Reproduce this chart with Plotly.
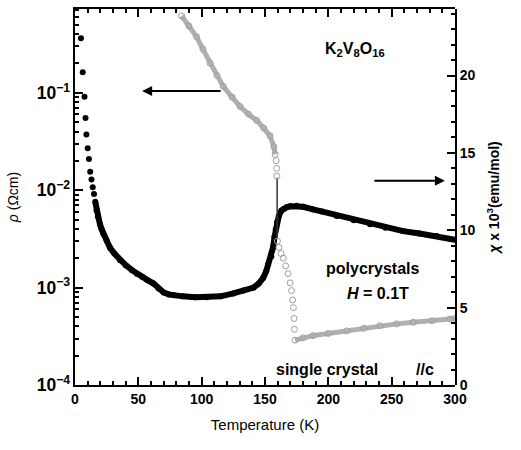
import plotly.graph_objects as go

# Resistivity (single crystal, //c) – left log axis
rho_T_sparse = [4.7, 6.1, 7.5, 8.3, 9.0, 10.0, 11.0, 12.0, 13.0, 14.0, 15.0]
rho_sparse = [0.363, 0.162, 0.0912, 0.0550, 0.0372, 0.0269, 0.0209, 0.0155, 0.0129, 0.0107, 0.00912]

rho_T = [16, 17, 18, 19.7, 21, 22.4, 25, 27.6, 31, 35.5, 40, 45, 49, 53, 57, 62, 66, 70, 74, 78,
         85, 95, 104, 115, 125, 133, 141, 145, 148.6, 151, 152.5, 155, 156.5, 157.5, 158.5, 159.5,
         161, 163, 165, 167, 170, 175, 180, 188, 195, 206.6, 220, 232.9, 245, 259, 272, 285.6, 296, 300]
rho = [0.00759, 0.00617, 0.00537, 0.00447, 0.00398, 0.00355, 0.00302, 0.00257, 0.00224, 0.00191,
       0.00170, 0.00151, 0.00138, 0.00129, 0.00120, 0.00110, 0.000977, 0.000891, 0.000851, 0.000832,
       0.000813, 0.000794, 0.000794, 0.000813, 0.000871, 0.000933, 0.00100, 0.00110, 0.00126, 0.00148,
       0.00174, 0.00209, 0.00263, 0.00331, 0.00398, 0.00468,
       0.00550, 0.00617, 0.00646, 0.00668, 0.00684, 0.00692, 0.00676, 0.00635, 0.00603, 0.00543,
       0.00490, 0.00447, 0.00412, 0.00380, 0.00359, 0.00339, 0.00316, 0.00309]

# Susceptibility (polycrystals, H = 0.1 T) – right axis
chi_T_upper = [84.2, 90, 96, 101, 106.6, 112, 117, 124, 130.3, 137, 143.4, 149, 154, 157, 158]
chi_upper = [23.85, 23.2, 22.5, 21.7, 20.8, 20.0, 19.3, 18.6, 18.0, 17.5, 17.1, 16.6, 16.1, 15.4, 14.9]

chi_T_step = [158.8, 159.2, 159.4, 159.8, 161, 162.7, 164.4, 166.3, 168.2, 169.8, 171, 171.8, 172.4, 172.9, 173.3]
chi_step = [14.5, 14.0, 13.5, 9.3, 8.9, 8.5, 8.2, 7.7, 7.2, 6.6, 6.1, 5.5, 5.0, 4.3, 3.6]

chi_T_jump = [159.6, 159.6]
chi_jump = [13.4, 9.5]

chi_T_low = [173.7, 180, 188, 200, 214.5, 228, 240.8, 254, 267, 282, 296, 300]
chi_low = [2.9, 3.05, 3.19, 3.33, 3.5, 3.67, 3.83, 3.95, 4.05, 4.15, 4.26, 4.3]

FONT = "Liberation Sans"
GRAY = "#a0a0a0"

fig = go.Figure()
fig.add_trace(go.Scatter(x=rho_T_sparse, y=rho_sparse, mode="markers",
                         marker=dict(color="black", size=6), yaxis="y"))
fig.add_trace(go.Scatter(x=rho_T, y=rho, mode="lines+markers",
                         line=dict(color="black", width=6),
                         marker=dict(color="black", size=6), yaxis="y"))
fig.add_trace(go.Scatter(x=chi_T_upper, y=chi_upper, mode="lines+markers",
                         line=dict(color="#b0b0b0", width=5),
                         marker=dict(symbol="circle-open", color=GRAY, size=6, line=dict(width=1)),
                         yaxis="y2"))
fig.add_trace(go.Scatter(x=chi_T_jump, y=chi_jump, mode="lines",
                         line=dict(color="#333333", width=1.5), yaxis="y2"))
fig.add_trace(go.Scatter(x=chi_T_step, y=chi_step, mode="markers",
                         marker=dict(symbol="circle-open", color=GRAY, size=6, line=dict(width=1)),
                         yaxis="y2"))
fig.add_trace(go.Scatter(x=chi_T_low, y=chi_low, mode="lines+markers",
                         line=dict(color="#b0b0b0", width=5),
                         marker=dict(symbol="circle-open", color=GRAY, size=6, line=dict(width=1)),
                         yaxis="y2"))

tickfont = dict(family=FONT, size=14, color="black")

fig.update_layout(
    width=521, height=450,
    margin=dict(l=75, r=66, t=7, b=65),
    paper_bgcolor="white", plot_bgcolor="rgba(0,0,0,0)",
    showlegend=False,
    font=dict(family=FONT, color="black"),
    xaxis=dict(range=[0, 300], dtick=50, ticks="inside", ticklen=8, tickwidth=2,
               tickcolor="black", showline=True, linecolor="black", linewidth=2,
               mirror="ticks", showgrid=False, zeroline=False, tickfont=tickfont,
               tickprefix="<b>", ticksuffix="</b>",
               minor=dict(dtick=10, ticks="inside", ticklen=4, tickcolor="black"),
               title=dict(text="Temperature (K)", font=dict(family=FONT, size=15), standoff=14)),
    yaxis=dict(type="log", range=[-4, -0.14], dtick=1, exponentformat="power",
               ticks="inside", ticklen=8, tickwidth=2, tickcolor="black",
               showline=True, linecolor="black", linewidth=2, showgrid=False, zeroline=False,
               tickfont=tickfont, tickprefix="<b>", ticksuffix="</b>",
               minor=dict(dtick="D1", ticks="inside", ticklen=4, tickcolor="black"),
               title=dict(text="<i>ρ</i> (Ωcm)", font=dict(family=FONT, size=14))),
    yaxis2=dict(anchor="x", side="right", range=[0, 24.3], dtick=5,
                ticks="inside", ticklen=8, tickwidth=2, tickcolor="black",
                showline=True, linecolor="black", linewidth=2, showgrid=False, zeroline=False,
                tickfont=tickfont, tickprefix="<b>", ticksuffix="</b>",
                minor=dict(dtick=1, ticks="inside", ticklen=4, tickcolor="black"),
                title=dict(text="<b><i>χ</i> x 10<sup>3</sup>(emu/mol)</b>", font=dict(family=FONT, size=14))),
)

ann_font = dict(family=FONT, size=16, color="black")
fig.add_annotation(x=221, y=21.7, xref="x", yref="y2", showarrow=False,
                   text="<b>K<sub>2</sub>V<sub>8</sub>O<sub>16</sub></b>", font=ann_font)
fig.add_annotation(x=234.5, y=7.5, xref="x", yref="y2", showarrow=False,
                   text="<b>polycrystals</b>", font=ann_font)
fig.add_annotation(x=239, y=5.9, xref="x", yref="y2", showarrow=False,
                   text="<b><i>H</i> = 0.1T</b>", font=ann_font)
fig.add_annotation(x=199, y=1.0, xref="x", yref="y2", showarrow=False,
                   text="<b>single crystal</b>", font=ann_font)
fig.add_annotation(x=276, y=1.0, xref="x", yref="y2", showarrow=False,
                   text="<b>//c</b>", font=ann_font)
# arrows
fig.add_annotation(x=53, y=19.0, xref="x", yref="y2", ax=80, ay=0, axref="pixel", ayref="pixel",
                   text="", showarrow=True, arrowhead=2, arrowsize=1, arrowwidth=2, arrowcolor="black")
fig.add_annotation(x=292, y=13.2, xref="x", yref="y2", ax=-72, ay=0, axref="pixel", ayref="pixel",
                   text="", showarrow=True, arrowhead=2, arrowsize=1, arrowwidth=2, arrowcolor="black")

fig.write_html("out.html", config={"displayModeBar": False},
               post_script="document.body.style.margin='0px';")
